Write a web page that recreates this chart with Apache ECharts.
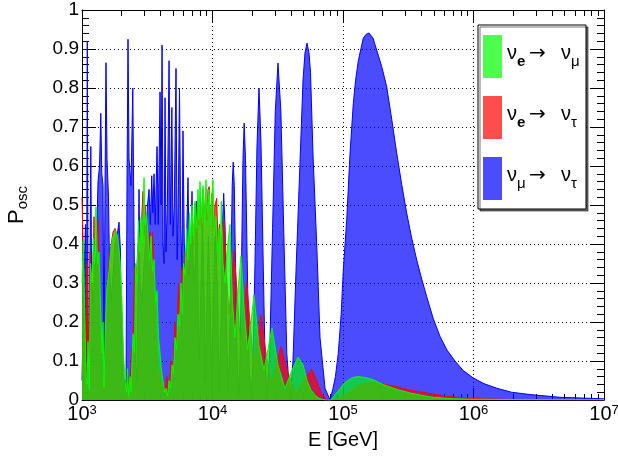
<!DOCTYPE html>
<html><head><meta charset="utf-8">
<script src="https://cdn.jsdelivr.net/npm/echarts@6/dist/echarts.min.js"></script>
<style>html,body{margin:0;padding:0;background:#fff}#c{width:618px;height:457px}</style>
</head><body><div id="c"></div>
<script>
// ---- data (E in GeV, P_osc) ----
const numuToNutau = [[1000,0.05],[1036,0.30],[1063,0.45],[1082,0.10],[1098,0.92],[1116,0.10],[1131,0.07],[1152,0.35],[1168,0.65],[1185,0.30],[1214,0.25],[1258,0.32],[1291,0.40],[1326,0.56],[1362,0.60],[1393,0.735],[1418,0.58],[1449,0.55],[1474,0.06],[1501,0.55],[1527,0.865],[1555,0.62],[1596,0.52],[1624,0.35],[1668,0.25],[1728,0.32],[1790,0.40],[1855,0.42],[1921,0.456],[1972,0.38],[2008,0.12],[2062,0.06],[2136,0.05],[2174,0.02],[2212,0.55],[2252,0.925],[2292,0.62],[2374,0.55],[2451,0.80],[2504,0.42],[2571,0.10],[2640,0.05],[2687,0.30],[2735,0.54],[2784,0.30],[2884,0.25],[2988,0.35],[3095,0.42],[3178,0.50],[3263,0.54],[3340,0.45],[3423,0.575],[3490,0.48],[3565,0.58],[3641,0.45],[3759,0.65],[3840,0.45],[3963,0.79],[4034,0.50],[4106,0.91],[4179,0.40],[4253,0.35],[4329,0.775],[4406,0.38],[4509,0.50],[4646,0.87],[4754,0.45],[4882,0.75],[4981,0.42],[5097,0.50],[5252,0.85],[5364,0.36],[5488,0.55],[5586,0.80],[5706,0.45],[5838,0.33],[5942,0.69],[6080,0.40],[6265,0.34],[6490,0.57],[6664,0.32],[6783,0.36],[6965,0.535],[7152,0.30],[7343,0.34],[7580,0.51],[7811,0.20],[7950,0.10],[8163,0.30],[8382,0.45],[8607,0.30],[8791,0.05],[9043,0.25],[9301,0.42],[9601,0.25],[9876,0.03],[10180,0.28],[10520,0.45],[10900,0.28],[11290,0.02],[11620,0.20],[11930,0.45],[12180,0.53],[12470,0.45],[12800,0.20],[13140,0.02],[13500,0.12],[13860,0.35],[14160,0.55],[14410,0.61],[14690,0.55],[15000,0.35],[15400,0.12],[15820,0.01],[16240,0.10],[16740,0.38],[17130,0.62],[17490,0.71],[17900,0.62],[18440,0.36],[19040,0.10],[19720,0.005],[20430,0.10],[21160,0.35],[21920,0.65],[22710,0.80],[23530,0.66],[24370,0.38],[25250,0.11],[26150,0.005],[27480,0.13],[28870,0.44],[30280,0.74],[31760,0.864],[33420,0.74],[35180,0.43],[37080,0.12],[39240,0.003],[41380,0.10],[43630,0.33],[46830,0.61],[49380,0.82],[51130,0.89],[52990,0.915],[54890,0.89],[56360,0.84],[58900,0.63],[63220,0.38],[66650,0.16],[72800,0.03],[79530,0.0],[83850,0.03],[87500,0.06],[92000,0.12],[96800,0.22],[100500,0.333],[106700,0.46],[113100,0.63],[119900,0.76],[124900,0.82],[131000,0.87],[143100,0.928],[150800,0.938],[158200,0.941],[169800,0.928],[181200,0.897],[198000,0.855],[216200,0.803],[236200,0.72],[257900,0.633],[281700,0.553],[307700,0.479],[336100,0.415],[367100,0.359],[401000,0.31],[437900,0.265],[490000,0.21],[553800,0.163],[626700,0.128],[721400,0.100],[830800,0.076],[991300,0.057],[1200000,0.042],[1514000,0.030],[1950000,0.020],[2710000,0.014],[4601000,0.007],[10000000,0.003]];

const nueToNutau = [[1000,0.52],[1018,0.41],[1036,0.30],[1054,0.05],[1073,0.15],[1092,0.35],[1112,0.05],[1131,0.20],[1152,0.38],[1183,0.25],[1214,0.30],[1236,0.47],[1258,0.30],[1291,0.35],[1333,0.46],[1362,0.30],[1398,0.15],[1436,0.05],[1474,0.02],[1514,0.18],[1582,0.32],[1639,0.38],[1728,0.43],[1790,0.44],[1871,0.42],[1955,0.33],[2026,0.20],[2098,0.06],[2174,0.02],[2252,0.06],[2333,0.03],[2395,0.12],[2460,0.15],[2526,0.34],[2594,0.30],[2687,0.40],[2784,0.42],[2858,0.46],[2935,0.535],[3004,0.42],[3057,0.50],[3122,0.38],[3206,0.40],[3322,0.43],[3381,0.30],[3471,0.43],[3565,0.30],[3660,0.20],[3759,0.10],[3860,0.03],[3963,0.08],[4070,0.02],[4179,0.05],[4329,0.02],[4485,0.06],[4646,0.03],[4813,0.10],[4981,0.08],[5160,0.20],[5345,0.15],[5488,0.30],[5636,0.22],[5838,0.34],[5995,0.28],[6156,0.38],[6343,0.385],[6490,0.32],[6723,0.42],[6843,0.36],[7002,0.457],[7152,0.40],[7343,0.505],[7514,0.42],[7700,0.513],[7880,0.45],[8091,0.52],[8235,0.44],[8426,0.54],[8607,0.45],[8838,0.53],[9075,0.46],[9236,0.54],[9449,0.547],[9652,0.45],[9911,0.53],[10180,0.44],[10450,0.50],[10770,0.517],[11020,0.40],[11310,0.45],[11520,0.35],[11820,0.42],[12310,0.46],[12800,0.32],[13380,0.22],[13980,0.30],[14610,0.385],[15400,0.28],[16390,0.14],[17280,0.22],[18280,0.303],[19380,0.20],[20790,0.08],[22120,0.15],[23530,0.218],[25700,0.12],[28070,0.04],[30660,0.09],[33480,0.137],[37880,0.07],[43630,0.015],[50250,0.05],[57370,0.079],[62100,0.055],[67810,0.02],[74100,0.002],[80930,0.0],[94840,0.005],[113100,0.02],[128000,0.035],[147400,0.042],[169800,0.045],[202600,0.041],[259300,0.034],[326200,0.025],[464200,0.017],[604800,0.010],[830800,0.006],[1121000,0.003],[2271000,0.001],[10000000,0.0]];

const nueToNumu = [[1000,0.30],[1023,0.41],[1045,0.25],[1073,0.06],[1092,0.04],[1112,0.15],[1137,0.025],[1162,0.35],[1193,0.30],[1220,0.415],[1247,0.35],[1280,0.495],[1315,0.35],[1350,0.38],[1386,0.38],[1423,0.12],[1449,0.20],[1474,0.03],[1514,0.20],[1555,0.29],[1610,0.33],[1668,0.39],[1728,0.42],[1806,0.435],[1871,0.42],[1955,0.36],[2026,0.25],[2080,0.12],[2136,0.05],[2193,0.02],[2232,0.08],[2272,0.01],[2333,0.06],[2374,0.02],[2417,0.10],[2460,0.17],[2526,0.12],[2571,0.35],[2640,0.30],[2701,0.46],[2760,0.38],[2833,0.47],[2899,0.40],[2988,0.57],[3041,0.45],[3122,0.48],[3206,0.42],[3292,0.36],[3381,0.42],[3471,0.33],[3565,0.36],[3660,0.25],[3759,0.28],[3860,0.16],[3963,0.12],[4055,0.077],[4179,0.05],[4291,0.02],[4406,0.03],[4525,0.01],[4646,0.05],[4771,0.03],[4899,0.09],[5025,0.07],[5160,0.16],[5298,0.13],[5440,0.22],[5586,0.19],[5736,0.30],[5890,0.22],[5995,0.35],[6156,0.32],[6321,0.44],[6490,0.36],[6664,0.48],[6819,0.40],[6965,0.50],[7127,0.42],[7343,0.51],[7540,0.44],[7742,0.54],[7880,0.46],[8020,0.56],[8235,0.47],[8456,0.55],[8683,0.45],[8916,0.565],[9155,0.48],[9400,0.54],[9652,0.45],[9876,0.52],[10090,0.565],[10360,0.42],[10640,0.47],[10920,0.38],[11210,0.44],[11410,0.35],[11680,0.51],[12030,0.35],[12470,0.30],[12910,0.38],[13620,0.45],[14230,0.25],[14870,0.16],[15680,0.28],[16530,0.37],[17590,0.22],[18540,0.13],[19720,0.20],[20790,0.27],[22710,0.14],[24810,0.077],[26620,0.13],[28570,0.185],[31760,0.09],[35930,0.03],[39940,0.07],[45190,0.11],[49380,0.09],[52990,0.05],[56860,0.025],[64340,0.005],[72800,0.0],[80930,0.0],[89960,0.02],[103600,0.045],[117200,0.057],[130300,0.06],[147400,0.058],[169800,0.052],[202600,0.040],[259300,0.027],[326200,0.018],[464200,0.008],[626700,0.004],[940100,0.002],[2271000,0.001],[10000000,0.001]];

const xMin = 1e3, xMax = 1e7;
const decadeStarts = [1e3, 1e4, 1e5, 1e6];
const minorMultipliers = [2, 3, 4, 5, 6, 7, 8, 9];
const yMin = 0, yMax = 1, yStep = 0.1;

const seriesNames = ['nue_numu', 'nue_nutau', 'numu_nutau'];
const legendRich = {
  nue_numu:  '{n|ν}{sb|e}{a|→}{n|ν}{s|μ}',
  nue_nutau: '{n|ν}{sb|e}{a|→}{n|ν}{s|τ}',
  numu_nutau:'{n|ν}{s|μ}{a|→}{n|ν}{s|τ}'
};

const minorTicks = [];
decadeStarts.forEach(d => minorMultipliers.forEach(m => minorTicks.push(d * m)));

const FONT = '"Liberation Sans", Arial, Helvetica, sans-serif';

const chart = echarts.init(document.getElementById('c'), null, {renderer: 'canvas'});

function xAxisDef(pos, minor, labels) {
  return {
    type: 'log', logBase: 10, min: xMin, max: xMax, position: pos,
    axisLine: {show: !minor, onZero: false, lineStyle: {color: '#000', width: 1}},
    axisTick: minor
      ? {show: true, inside: true, length: 6, customValues: minorTicks, lineStyle: {color: '#000'}}
      : {show: true, inside: true, length: 12, lineStyle: {color: '#000'}},
    axisLabel: labels ? {
      show: true, margin: 4,
      formatter: v => '{b|10}{s|' + Math.round(Math.log10(v)) + '}',
      rich: {
        b: {fontSize: 20, fontFamily: FONT, color: '#000', lineHeight: 20, verticalAlign: 'bottom'},
        s: {fontSize: 13, fontFamily: FONT, color: '#000', lineHeight: 13, verticalAlign: 'top'}
      }
    } : {show: false},
    splitLine: (labels) ? {show: true, lineStyle: {color: '#000', width: 1, type: [1, 3]}} : {show: false},
    minorTick: {show: false}, minorSplitLine: {show: false},
    name: labels ? 'E [GeV]' : '', nameLocation: 'middle', nameGap: 30,
    nameTextStyle: {fontSize: 20, fontFamily: FONT, color: '#000', verticalAlign: 'top'}
  };
}

function yAxisDef(pos, labels) {
  return {
    type: 'value', min: yMin, max: yMax, interval: yStep, position: pos,
    axisLine: {show: true, onZero: false, lineStyle: {color: '#000', width: 1}},
    axisTick: {show: true, inside: true, length: 14, lineStyle: {color: '#000'}},
    minorTick: {show: true, splitNumber: 5, length: 7, lineStyle: {color: '#000'}},
    axisLabel: labels ? {
      show: true, margin: 3, fontSize: 19, fontFamily: FONT, color: '#000',
      formatter: v => (Math.abs(v) < 1e-9 ? '0' : Math.abs(v - 1) < 1e-9 ? '1' : v.toFixed(1))
    } : {show: false},
    splitLine: labels ? {show: true, lineStyle: {color: '#000', width: 1, type: [1, 3]}} : {show: false},
    name: labels ? '{p|P}{s|osc}' : '', nameLocation: 'middle', nameRotate: 90, nameGap: 52,
    nameTextStyle: {
      rich: {
        p: {fontSize: 22, fontFamily: FONT, color: '#000', lineHeight: 24, verticalAlign: 'top'},
        s: {fontSize: 15, fontFamily: FONT, color: '#000', lineHeight: 24, verticalAlign: 'bottom'}
      }
    }
  };
}

function areaSeries(name, data, color, z) {
  return {
    name: name, type: 'line', data: data, xAxisIndex: 0, yAxisIndex: 0,
    symbol: 'none', showSymbol: false, smooth: false, silent: true, z: z,
    lineStyle: {color: color, width: 1},
    itemStyle: {color: color},
    areaStyle: {color: color, opacity: 0.7, origin: 'start'}
  };
}

const richLegend = {
  n: {fontSize: 20, fontFamily: FONT, color: '#000', lineHeight: 20, verticalAlign: 'top'},
  sb: {fontSize: 15, fontWeight: 'bold', fontFamily: FONT, color: '#000', lineHeight: 26, verticalAlign: 'bottom', width: 12},
  s: {fontSize: 15, fontFamily: FONT, color: '#000', lineHeight: 26, verticalAlign: 'bottom', width: 12},
  a: {fontSize: 20, fontFamily: '"DejaVu Sans", sans-serif', color: '#000', lineHeight: 20, verticalAlign: 'top', width: 32}
};

chart.setOption({
  animation: false,
  backgroundColor: '#fff',
  grid: {left: 82, top: 10, right: 14, bottom: 57, containLabel: false, outerBoundsMode: 'none'},
  xAxis: [xAxisDef('bottom', false, true), xAxisDef('bottom', true, false), xAxisDef('top', false, false), xAxisDef('top', true, false)],
  yAxis: [yAxisDef('left', true), yAxisDef('right', false)],
  legend: {
    orient: 'vertical', left: 478, top: 25,
    padding: [10, 3, 9, 5], itemWidth: 19, itemHeight: 43, itemGap: 18, icon: 'rect',
    backgroundColor: '#fff', borderColor: '#000', borderWidth: 1,
    shadowColor: 'rgba(0,0,0,0.55)', shadowOffsetX: 2, shadowOffsetY: 2, shadowBlur: 0,
    selectedMode: false,
    data: [
      {name: seriesNames[0], itemStyle: {color: 'rgba(0,255,0,0.7)'}},
      {name: seriesNames[1], itemStyle: {color: 'rgba(255,0,0,0.7)'}},
      {name: seriesNames[2], itemStyle: {color: 'rgba(0,0,255,0.7)'}}
    ],
    formatter: name => legendRich[name],
    textStyle: {rich: richLegend}
  },
  series: [
    areaSeries(seriesNames[2], numuToNutau, '#0000ff', 2),
    areaSeries(seriesNames[1], nueToNutau, '#ff0000', 3),
    areaSeries(seriesNames[0], nueToNumu, '#00ff00', 4)
  ]
});
</script></body></html>
